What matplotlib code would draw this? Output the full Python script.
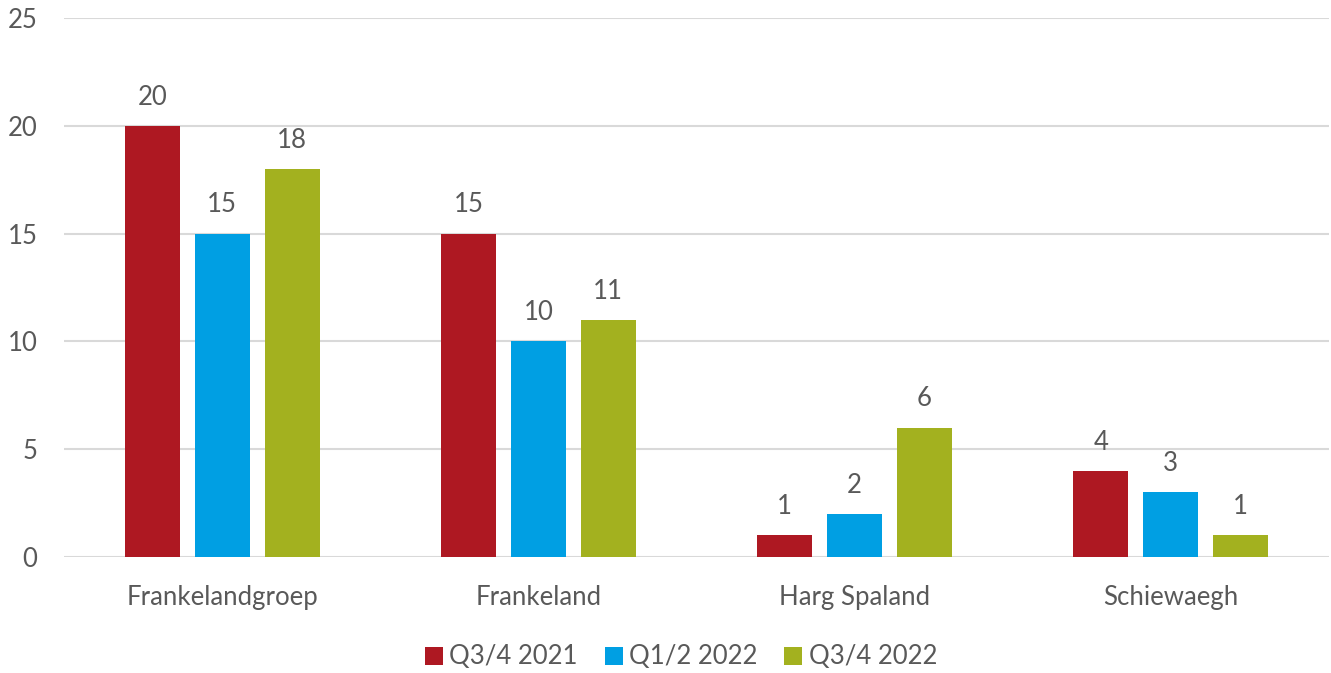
import numpy as np
import matplotlib.pyplot as plt

plt.rcParams['font.family'] = ['Lato', 'DejaVu Sans']

categories = ["Frankelandgroep", "Frankeland", "Harg Spaland", "Schiewaegh"]
series_names = ["Q3/4 2021", "Q1/2 2022", "Q3/4 2022"]
q34_2021 = [20, 15, 1, 4]
q12_2022 = [15, 10, 2, 3]
q34_2022 = [18, 11, 6, 1]
colors = ["#AE1822", "#009FE3", "#A3B11F"]

text_col = "#595959"
fs = 18.5

fig = plt.figure(figsize=(13.31, 6.73), dpi=100)
ax = fig.add_axes([64/1331, 1-557/673, 1265/1331, 539/673])

x = np.arange(len(categories))
width = 0.174
offset = 0.221
for i, (vals, name) in enumerate(zip([q34_2021, q12_2022, q34_2022], series_names)):
    pos = x + (i - 1) * offset
    bars = ax.bar(pos, vals, width, color=colors[i], label=name, zorder=3)
    for b, v in zip(bars, vals):
        ax.text(b.get_x() + b.get_width()/2, v + 0.75, str(v), ha='center', va='bottom',
                fontsize=fs, color=text_col)

ax.set_xlim(-0.5, len(categories) - 0.5)
ax.set_ylim(0, 25)
ax.set_yticks(range(0, 26, 5))
ax.set_xticks(x)
ax.set_xticklabels(categories)
ax.tick_params(axis='both', length=0, labelsize=fs, labelcolor=text_col)
ax.tick_params(axis='x', pad=20)
ax.tick_params(axis='y', pad=19)
ax.grid(axis='y', color='#D9D9D9', linewidth=1.5, zorder=0)
for s in ax.spines.values():
    s.set_visible(False)

ax.legend(loc='center', bbox_to_anchor=(681/1331, 1-657/673), bbox_transform=fig.transFigure,
          ncol=3, frameon=False, fontsize=fs, handlelength=0.7, handleheight=0.7,
          handletextpad=0.25, columnspacing=1.05, labelcolor=text_col)

fig.savefig("out.png", dpi=100)
